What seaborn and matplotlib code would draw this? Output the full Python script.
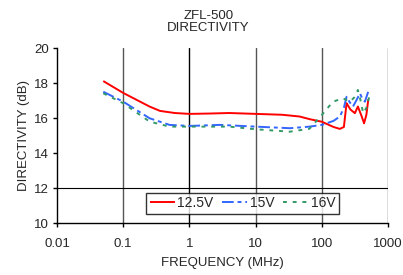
import matplotlib
matplotlib.use("Agg")
import matplotlib.pyplot as plt
import seaborn as sns
import pandas as pd
import numpy as np
from matplotlib.ticker import FixedLocator, FixedFormatter, NullLocator

sns.set_theme(style="white")
plt.rcParams['font.family'] = ['Liberation Sans', 'DejaVu Sans']

freq_red = [0.05, 0.1, 0.18, 0.25, 0.36, 0.6, 1, 2, 4, 10, 25, 46, 65, 100, 150, 187, 215, 236, 270, 315, 350, 400, 434, 470, 503]
dir_red = [18.13, 17.45, 16.95, 16.67, 16.42, 16.3, 16.25, 16.27, 16.3, 16.25, 16.2, 16.1, 15.95, 15.8, 15.5, 15.39, 15.5, 16.86, 16.5, 16.29, 16.67, 16.1, 15.71, 16.2, 17.09]

freq_blue = [0.05, 0.1, 0.25, 0.5, 1, 2.9, 10, 33, 65, 100, 150, 187, 215, 236, 265, 295, 340, 376, 410, 447, 520]
dir_blue = [17.52, 16.95, 16.0, 15.62, 15.56, 15.62, 15.52, 15.43, 15.52, 15.62, 15.85, 16.1, 16.6, 17.23, 16.9, 16.67, 17.1, 17.43, 17.1, 16.95, 17.71]

freq_green = [0.05, 0.1, 0.25, 0.5, 1, 4, 10, 33, 65, 100, 147, 208, 265, 310, 350, 385, 420, 470, 520]
dir_green = [17.43, 16.86, 15.81, 15.52, 15.52, 15.52, 15.37, 15.23, 15.4, 16.19, 16.95, 17.14, 16.95, 17.2, 17.62, 17.0, 16.29, 16.6, 17.23]

series_names = ["12.5V", "15V", "16V"]
colors = ["#ff0000", "#3366ff", "#339966"]

df = pd.concat([
    pd.DataFrame({"freq": freq_red, "dir": dir_red, "series": "12.5V"}),
    pd.DataFrame({"freq": freq_blue, "dir": dir_blue, "series": "15V"}),
    pd.DataFrame({"freq": freq_green, "dir": dir_green, "series": "16V"}),
])

xticks = [0.01, 0.1, 1, 10, 100, 1000]
xticklabels = ["0.01", "0.1", "1", "10", "100", "1000"]
yticks = [10, 12, 14, 16, 18, 20]

fig = plt.figure(figsize=(4.03, 2.75), dpi=100)
ax = fig.add_axes([0.1414, 0.189, 0.8216, 0.635])

sns.lineplot(data=df, x="freq", y="dir", hue="series", style="series",
             hue_order=series_names, style_order=series_names,
             palette=colors, dashes=[(1, 0), (6, 2, 2, 2), (2, 3)],
             linewidth=1.4, sort=False, estimator=None, ax=ax)

ax.set_xscale("log")
ax.set_xlim(0.01, 1000)
ax.set_ylim(10, 20)
ax.xaxis.set_major_locator(FixedLocator(xticks))
ax.xaxis.set_major_formatter(FixedFormatter(xticklabels))
ax.xaxis.set_minor_locator(NullLocator())
ax.set_yticks(yticks)

for xv in [0.1, 1, 10, 100, 1000]:
    ax.axvline(xv, color="#555555" if xv != 1 else "#000000", linewidth=1.0, zorder=0)
ax.axhline(12, color="#000000", linewidth=0.8, zorder=0)

for s in ["top", "right"]:
    ax.spines[s].set_visible(False)
for s in ["left", "bottom"]:
    ax.spines[s].set_color("#000000")
    ax.spines[s].set_linewidth(1.0)

ax.tick_params(axis="y", which="major", direction="out", length=3, width=1,
               color="#000000", labelsize=9.5, pad=3, left=True)
ax.tick_params(axis="x", which="major", direction="out", length=3, width=1,
               color="#000000", labelsize=9.5, pad=8, bottom=True)

ax.set_xlabel("FREQUENCY (MHz)", fontsize=9.5, labelpad=5)
ax.set_ylabel("DIRECTIVITY (dB)", fontsize=9.5, labelpad=3)
fig.text(0.517, 0.965, "ZFL-500\nDIRECTIVITY", ha="center", va="top", fontsize=9.5, linespacing=1.05)

leg = ax.legend(loc="center", bbox_to_anchor=(0.56, 0.114), ncol=3, frameon=True,
                fontsize=10, handlelength=1.8, handletextpad=0.2, columnspacing=0.6,
                borderpad=0.25, borderaxespad=0.2, fancybox=False)
leg.get_frame().set_edgecolor("#000000")
leg.get_frame().set_linewidth(1.0)

fig.savefig("out.png", dpi=100)
